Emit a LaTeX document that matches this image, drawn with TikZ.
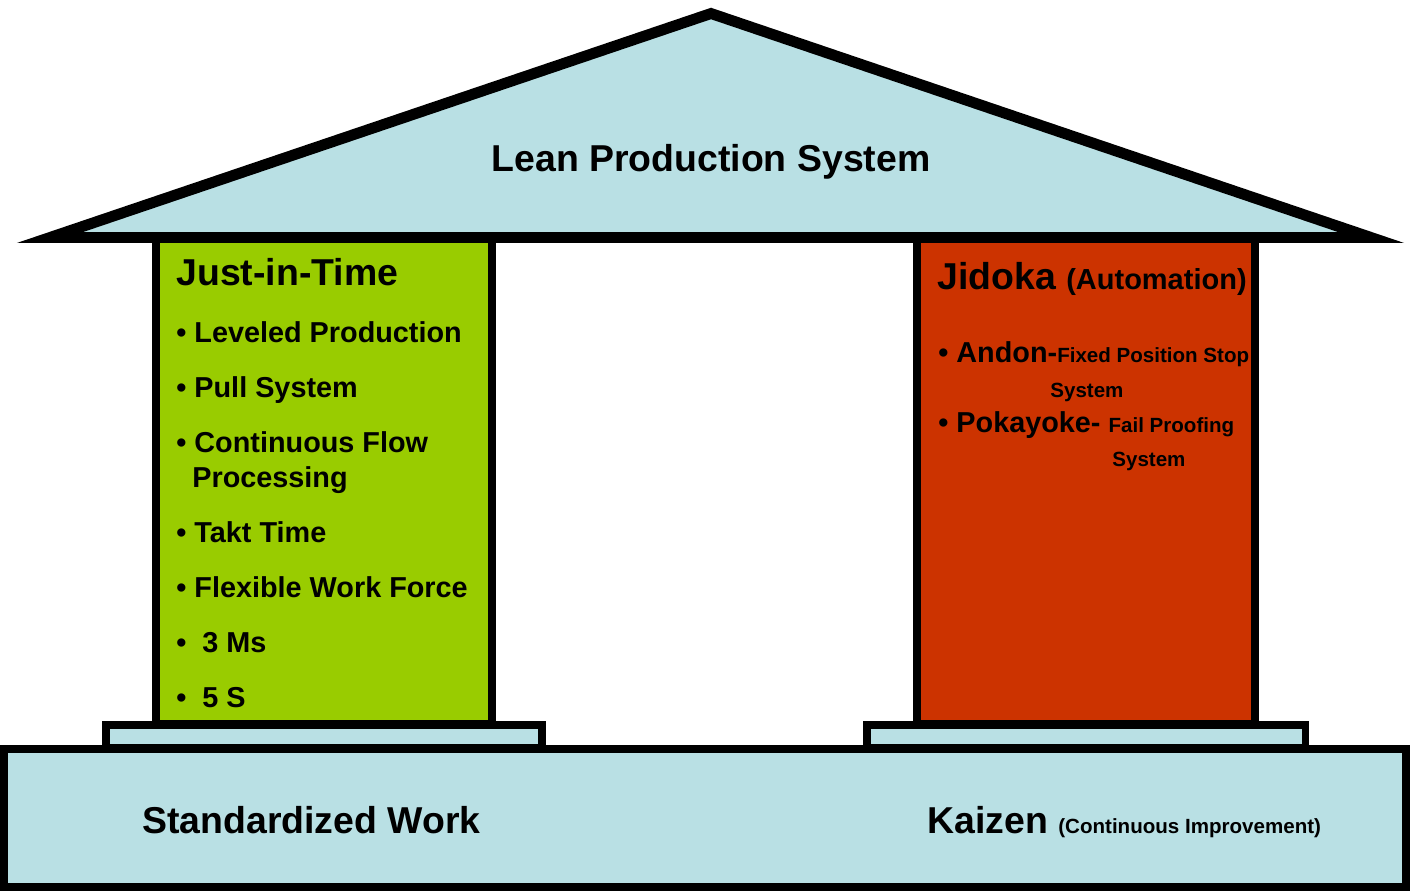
\documentclass[tikz,border=0pt]{standalone}
\usepackage{fontspec}
\setmainfont{Liberation Sans}
\definecolor{roofblue}{RGB}{185,224,228}
\definecolor{jitgreen}{RGB}{153,204,0}
\definecolor{jidred}{RGB}{204,51,0}
\newcommand\lpsHead{\bfseries\fontsize{21.3}{25}\selectfont}
\newcommand\lpsItem{\bfseries\fontsize{16.4}{19}\selectfont}
\newcommand\lpsNote{\bfseries\fontsize{11.7}{14}\selectfont}
\begin{document}
\begin{tikzpicture}[x=0.02cm,y=-0.02cm,
  txt/.style={anchor=base west,inner sep=0}]
\useasboundingbox (0,0) rectangle (1413,895);
\draw[line width=4.8pt,fill=roofblue] (4,749) rectangle (1406,887);
\draw[line width=4pt,fill=roofblue] (106,725) rectangle (542,748);
\draw[line width=4pt,fill=roofblue] (867,725) rectangle (1305,748);
\draw[line width=4.3pt,fill=jitgreen] (156,238) rectangle (492,724);
\draw[line width=4.6pt,fill=jidred] (917,238) rectangle (1255,724);
\draw[line width=6.2pt,fill=roofblue] (50,237.5)--(711,13.5)--(1371,237.5)--cycle;
\node[anchor=base,inner sep=0,font=\lpsHead] (lps) at (711,172) {Lean Production System};
\node[txt,font=\lpsHead] (jit) at (176,285) {Just-in-Time};
\foreach \y/\item [count=\i] in {342/Leveled Production,397/Pull System,452/Continuous Flow,542/Takt Time,597/Flexible Work Force,652/\ 3 Ms,707/\ 5 S}
{
    \node[txt,font=\lpsItem] (jit\i) at (176,\y) {•~\item};
}
\node[txt,font=\lpsItem] (proc) at (192,487) {Processing};
\node[txt,font=\lpsHead] (jid) at (937,290) {Jidoka {\fontsize{16.5}{19}\selectfont(Automation)}};
\node[txt,font=\lpsItem] (andon) at (938,362) {• Andon-{\lpsNote Fixed Position Stop}};
\node[txt,font=\lpsNote] (andonsys) at (1050,397) {System};
\node[txt,font=\lpsItem] (poka) at (938,432) {• Pokayoke- {\lpsNote Fail Proofing}};
\node[txt,font=\lpsNote] (pokasys) at (1112,466) {System};
\node[txt,font=\lpsHead] (sw) at (142,833) {Standardized Work};
\node[txt,font=\lpsHead] (kaizen) at (927,833) {Kaizen \lpsNote(Continuous Improvement)};
\end{tikzpicture}
\end{document}
